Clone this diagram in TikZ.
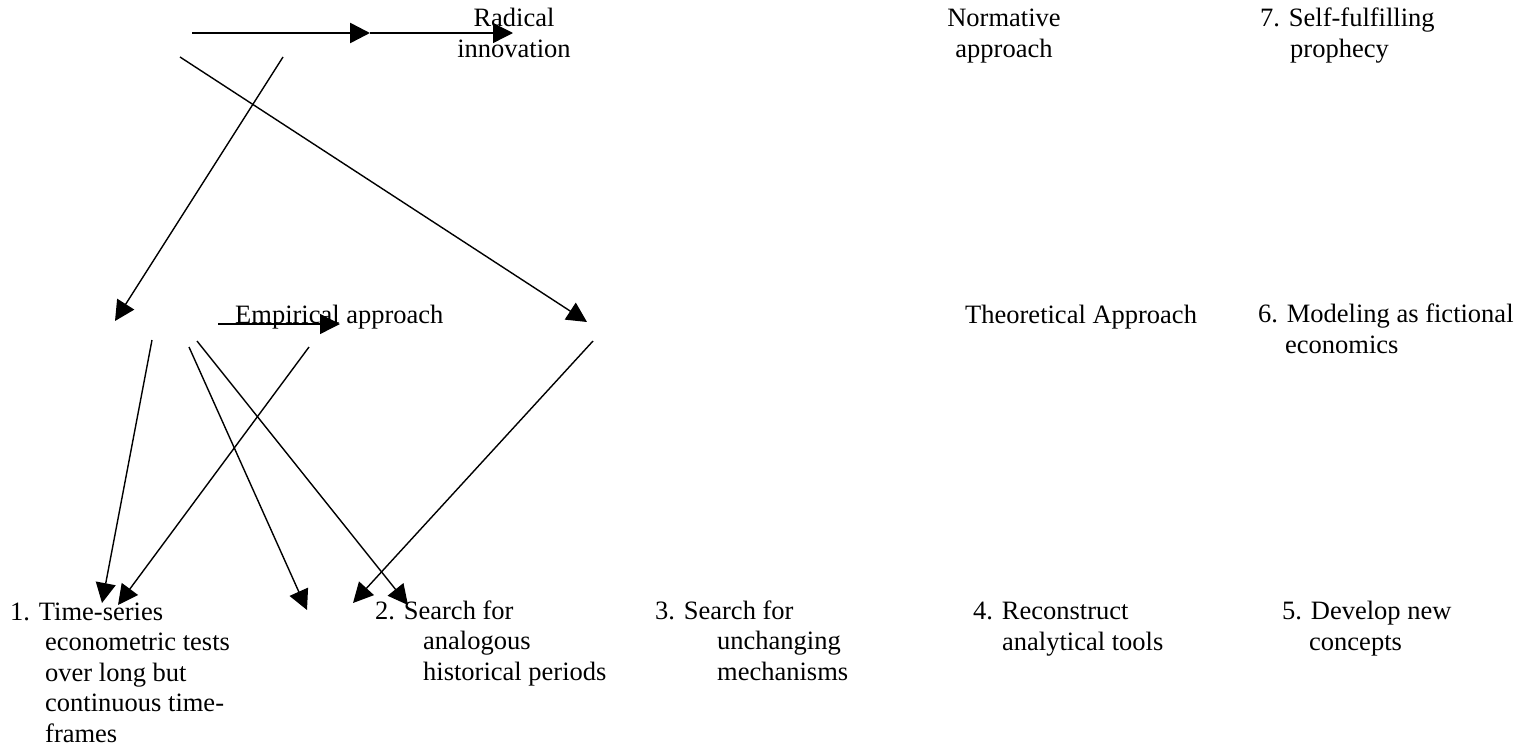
\documentclass[tikz,border=0pt]{standalone}
\usepackage{fontspec}
\setmainfont{Liberation Serif}
\usetikzlibrary{arrows.meta}
\tikzstyle{txt}=[inner sep=0pt,align=left,anchor=base west,font=\fontsize{26.5}{30.5}\selectfont]
\tikzstyle{arr}=[-{Triangle[length=20pt,width=20pt]},line width=1.4pt]
\newcommand{\hang}[1]{\hspace*{#1pt}}
\newcommand{\myarrow}[3]{\draw[arr,#1] (#2) -- (#3);}

\begin{document}
\begin{tikzpicture}[x=1pt,y=-1pt]
    \useasboundingbox (0,0) rectangle (1521,747);
    % top row (nodes placed at the baseline of their last line)
    \node[txt,align=center,anchor=base] (radical) at (514,57) {Radical\\innovation};
    \node[txt,align=center,anchor=base] (normative) at (1004,57) {Normative\\approach};
    \node[txt] (prophecy) at (1260,57) {7. Self-fulfilling\\\hang{30}prophecy};
    % middle row
    \node[txt] (empirical) at (235,323) {Empirical approach};
    \node[txt] (theoretical) at (965,323) {Theoretical Approach};
    \node[txt] (fiction) at (1258,353) {6. Modeling as fictional\\\hang{27}economics};
    % bottom row
    \node[txt] (timeseries) at (10,742) {1. Time-series\\\hang{35}econometric tests\\\hang{35}over long but\\\hang{35}continuous time-\\\hang{35}frames};
    \node[txt] (analogous) at (375,680) {2. Search for\\\hang{48}analogous\\\hang{48}historical periods};
    \node[txt] (mechanisms) at (655,680) {3. Search for\\\hang{62}unchanging\\\hang{62}mechanisms};
    \node[txt] (tools) at (973,650) {4. Reconstruct\\\hang{29}analytical tools};
    \node[txt] (concepts) at (1282,650) {5. Develop new\\\hang{27}concepts};

    % free ends of the arrows
    \coordinate (t1) at (192,33); \coordinate (t2) at (370,33); \coordinate (t3) at (513,33);
    \coordinate (a1) at (180,57); \coordinate (a2) at (587,322);
    \coordinate (b1) at (283,57); \coordinate (b2) at (115,321);
    \coordinate (e1) at (218,324); \coordinate (e2) at (340,324);
    \coordinate (c1) at (152,340); \coordinate (c2) at (102,603);
    \coordinate (d1) at (309,347); \coordinate (d2) at (118,605);
    \coordinate (f1) at (189,347); \coordinate (f2) at (307,610);
    \coordinate (g1) at (593,341); \coordinate (g2) at (353,603);
    \coordinate (h1) at (197,341); \coordinate (h2) at (408,605);

    \myarrow{line width=2.6pt}{t1}{t2}
    \myarrow{}{t2}{t3}
    \myarrow{}{a1}{a2}
    \myarrow{}{b1}{b2}
    \myarrow{}{e1}{e2}
    \myarrow{}{c1}{c2}
    \myarrow{}{d1}{d2}
    \myarrow{}{f1}{f2}
    \myarrow{}{g1}{g2}
    \myarrow{}{h1}{h2}
\end{tikzpicture}
\end{document}
